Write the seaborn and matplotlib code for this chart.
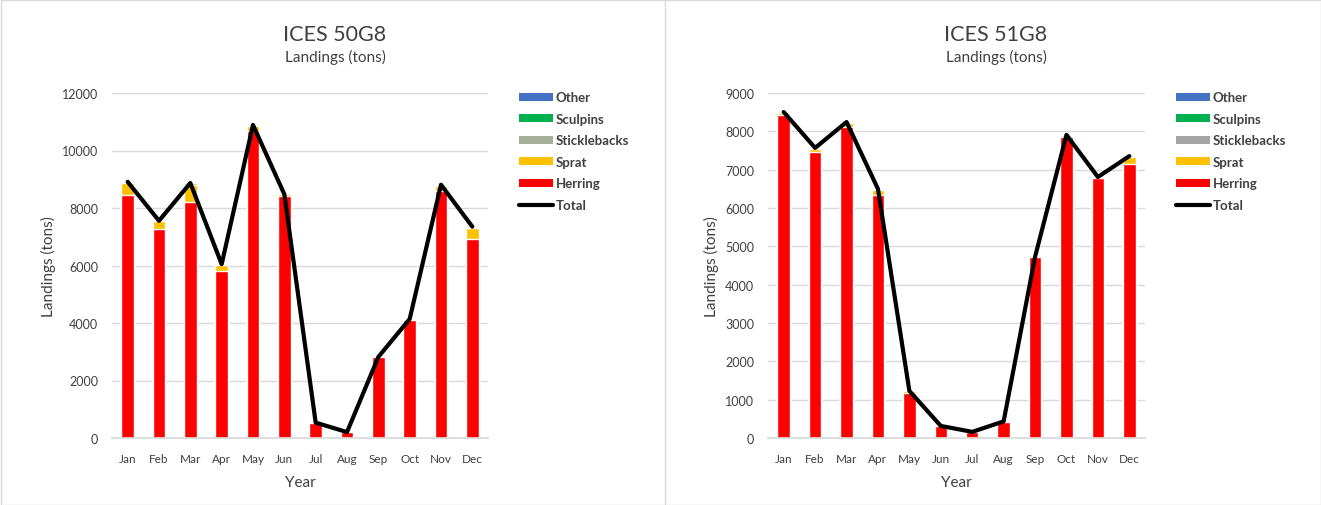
import numpy as np
import pandas as pd
import matplotlib
matplotlib.use("Agg")
import matplotlib.pyplot as plt
from matplotlib.patches import Patch
from matplotlib.lines import Line2D
import seaborn as sns

months = ["Jan", "Feb", "Mar", "Apr", "May", "Jun", "Jul", "Aug", "Sep", "Oct", "Nov", "Dec"]

# ICES rectangle 50G8 landings (tons)
herring_50 = [8450, 7270, 8210, 5810, 10680, 8420, 530, 205, 2810, 4110, 8590, 6930]
sprat_50 = [420, 270, 600, 210, 170, 50, 5, 0, 10, 20, 190, 390]
stickle_50 = [30, 10, 50, 20, 30, 5, 0, 0, 0, 5, 20, 20]
sculpin_50 = [5, 3, 5, 3, 5, 2, 0, 0, 0, 2, 5, 5]
other_50 = [5, 2, 5, 2, 5, 2, 0, 0, 0, 2, 5, 5]

# ICES rectangle 51G8 landings (tons)
herring_51 = [8430, 7460, 8110, 6340, 1180, 310, 155, 415, 4720, 7850, 6780, 7150]
sprat_51 = [55, 90, 110, 130, 40, 5, 5, 10, 5, 40, 20, 180]
stickle_51 = [10, 10, 15, 20, 5, 0, 0, 5, 0, 10, 5, 15]
sculpin_51 = [5, 5, 5, 5, 2, 0, 0, 2, 0, 5, 2, 5]
other_51 = [3, 3, 3, 3, 1, 0, 0, 1, 0, 3, 2, 3]

colors_50 = {"Other": "#4472C4", "Sculpins": "#00B050", "Sticklebacks": "#A7AF9B",
             "Sprat": "#FFC000", "Herring": "#FF0000"}
colors_51 = {"Other": "#4472C4", "Sculpins": "#00B050", "Sticklebacks": "#A5A5A5",
             "Sprat": "#FFC000", "Herring": "#FF0000"}

sns.set_theme(style="white")
plt.rcParams["font.family"] = ["Lato", "DejaVu Sans"]

fig = plt.figure(figsize=(13.21, 5.06), dpi=100)
W, H = 1321, 506


def panel(ax, herring, sprat, stickle, sculpin, other, colors, ymax, ystep):
    df = pd.DataFrame({"month": months, "Herring": herring, "Sprat": sprat,
                       "Sticklebacks": stickle, "Sculpins": sculpin, "Other": other})
    order = ["Herring", "Sprat", "Sticklebacks", "Sculpins", "Other"]
    cum = df[order].cumsum(axis=1)
    total = cum["Other"]
    # stacked bars: tallest cumulative layer first, each lower layer drawn over it
    for name in reversed(order):
        sns.barplot(x=df["month"], y=cum[name], color=colors[name], width=0.4,
                    saturation=1, ax=ax, order=months, zorder=2)
    sns.lineplot(x=np.arange(len(months)), y=total.values, color="black",
                 linewidth=3, ax=ax, zorder=3)
    ax.set_xlim(-0.5, 11.5)
    ax.set_ylim(0, ymax)
    ax.set_yticks(np.arange(0, ymax + 1, ystep))
    ax.set_yticklabels([str(v) for v in np.arange(0, ymax + 1, ystep)])
    ax.grid(axis="y", color="#D9D9D9", linewidth=1, zorder=0)
    ax.set_axisbelow(True)
    for s in ["top", "right", "left"]:
        ax.spines[s].set_visible(False)
    ax.spines["bottom"].set_color("#D9D9D9")
    ax.tick_params(axis="y", length=0, labelsize=9, colors="#404040", pad=10)
    ax.tick_params(axis="x", length=0, labelsize=8.5, colors="#404040", pad=11)
    ax.set_xlabel("Year", fontsize=11, color="#404040", labelpad=8)
    ax.set_ylabel("Landings (tons)", fontsize=11, color="#404040", labelpad=4)
    handles = [Patch(facecolor=colors[n], edgecolor="none", label=n)
               for n in ["Other", "Sculpins", "Sticklebacks", "Sprat", "Herring"]]
    handles.append(Line2D([0], [0], color="black", linewidth=3, label="Total"))
    leg = ax.legend(handles=handles, loc="upper left", bbox_to_anchor=(1.068, 1.02),
                    frameon=False, fontsize=9.5, handlelength=2.6, handleheight=0.55,
                    handletextpad=0.2, labelspacing=0.72, borderaxespad=0)
    for t in leg.get_texts():
        t.set_fontweight("bold")
        t.set_color("#404040")


ax1 = fig.add_axes([112 / W, 1 - 439 / H, 376 / W, 345 / H])
panel(ax1, herring_50, sprat_50, stickle_50, sculpin_50, other_50, colors_50, 12000, 2000)
ax2 = fig.add_axes([768 / W, 1 - 439 / H, 377 / W, 345 / H])
panel(ax2, herring_51, sprat_51, stickle_51, sculpin_51, other_51, colors_51, 9000, 1000)

for cx, name in [(335, "ICES 50G8"), (996, "ICES 51G8")]:
    fig.text(cx / W, 1 - 35 / H, name, ha="center", va="center", fontsize=15.5, color="#404040")
    fig.text(cx / W, 1 - 57 / H, "Landings (tons)", ha="center", va="center",
             fontsize=11, color="#404040")

# panel frames
fig.add_artist(Line2D([665 / W, 665 / W], [0, 1], color="#D9D9D9", linewidth=1,
                      transform=fig.transFigure))
fig.add_artist(plt.Rectangle((0.5 / W, 0.5 / H), 1 - 1 / W, 1 - 1 / H, fill=False,
                             edgecolor="#D9D9D9", linewidth=1, transform=fig.transFigure))

fig.savefig("out.png", dpi=100, facecolor="white")
